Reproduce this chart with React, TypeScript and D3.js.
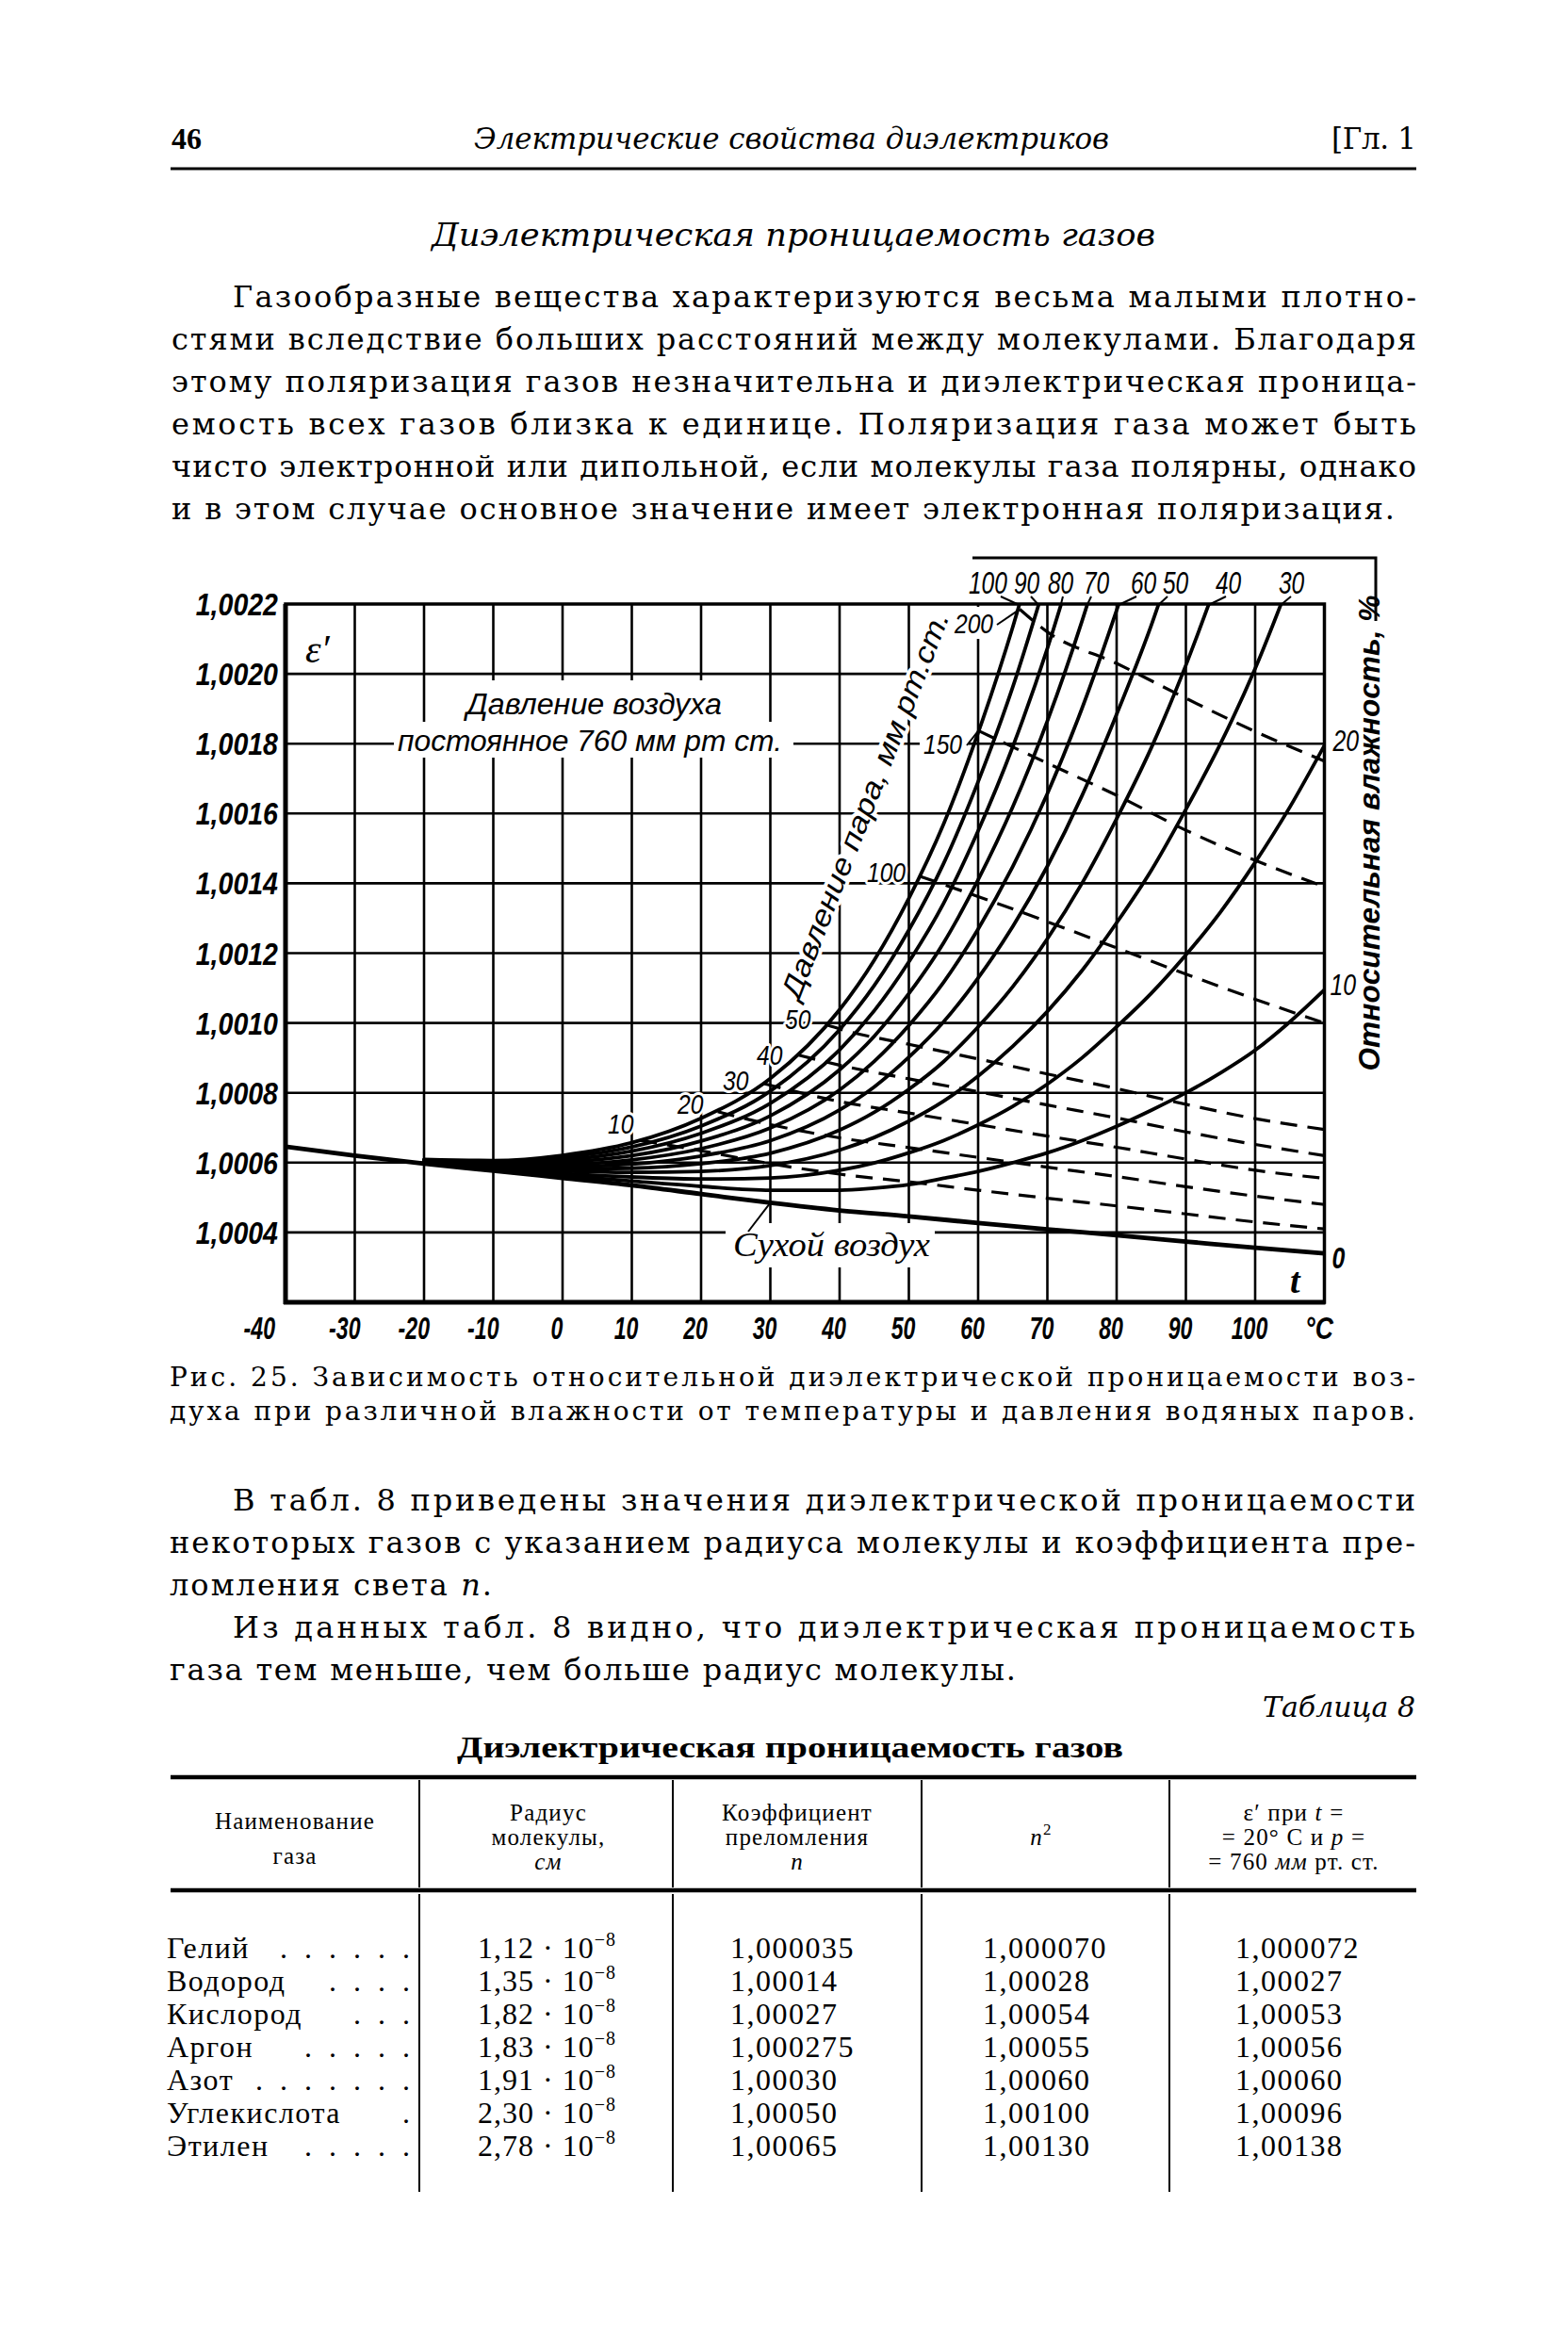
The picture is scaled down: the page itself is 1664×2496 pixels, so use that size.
import React from "react";
import * as d3 from "d3";

const SERIF = "'Liberation Serif','Times New Roman','DejaVu Serif',serif";
const BODY = "'DejaVu Serif','Liberation Serif',serif";
const SANS = "'Liberation Sans','Arial','DejaVu Sans',sans-serif";

// ---------------- page text ----------------
const PAGE_NO = "46";
const RUNNING_TITLE = "Электрические свойства диэлектриков";
const CHAPTER = "[Гл. 1";
const SECTION_TITLE = "Диэлектрическая проницаемость газов";
const PARA1 = [
  "Газообразные вещества характеризуются весьма малыми плотно-",
  "стями вследствие больших расстояний между молекулами. Благодаря",
  "этому поляризация газов незначительна и диэлектрическая проница-",
  "емость всех газов близка к единице. Поляризация газа может быть",
  "чисто электронной или дипольной, если молекулы газа полярны, однако",
  "и в этом случае основное значение имеет электронная поляризация.",
];
const CAPTION = [
  "Рис. 25. Зависимость относительной диэлектрической проницаемости воз-",
  "духа при различной влажности от температуры и давления водяных паров.",
];
const PARA2 = [
  "В табл. 8 приведены значения диэлектрической проницаемости",
  "некоторых газов с указанием радиуса молекулы и коэффициента пре-",
  "ломления света n.",
  "Из данных табл. 8 видно, что диэлектрическая проницаемость",
  "газа тем меньше, чем больше радиус молекулы.",
];

// ---------------- table ----------------
const TABLE_LABEL = "Таблица 8";
const TABLE_TITLE = "Диэлектрическая проницаемость газов";
const GAS_NAMES = ["Гелий", "Водород", "Кислород", "Аргон", "Азот", "Углекислота", "Этилен"];
const GAS_DOTS = [6, 4, 3, 5, 7, 1, 5];
const GAS_RADIUS = ["1,12", "1,35", "1,82", "1,83", "1,91", "2,30", "2,78"];
const GAS_N = ["1,000035", "1,00014", "1,00027", "1,000275", "1,00030", "1,00050", "1,00065"];
const GAS_N2 = ["1,000070", "1,00028", "1,00054", "1,00055", "1,00060", "1,00100", "1,00130"];
const GAS_EPS = ["1,000072", "1,00027", "1,00053", "1,00056", "1,00060", "1,00096", "1,00138"];

// ---------------- chart data (ε′ − 1, millionths) ----------------
const X_TICKS = [-40, -30, -20, -10, 0, 10, 20, 30, 40, 50, 60, 70, 80, 90, 100];
const X_TICK_LABELS = ["-40", "-30", "-20", "-10", "0", "10", "20", "30", "40", "50", "60", "70", "80", "90", "100"];
const X_GRID = [-30, -20, -10, 0, 10, 20, 30, 40, 50, 60, 70, 80, 90, 100];
const Y_TICKS = [400, 600, 800, 1000, 1200, 1400, 1600, 1800, 2000, 2200];
const Y_TICK_LABELS = ["1,0004", "1,0006", "1,0008", "1,0010", "1,0012", "1,0014", "1,0016", "1,0018", "1,0020", "1,0022"];
const Y_GRID = [400, 600, 800, 1000, 1200, 1400, 1600, 1800, 2000];

const T_HUMID = [-20, -10, 0, 10, 20, 30, 40, 45, 50, 55, 60, 65, 70, 75, 80, 85, 90, 95, 100, 105, 110];
const RH_100 = [609, 606, 621, 657, 727, 841, 1038, 1180, 1357, 1569, 1831, 2134, 2489];
const RH_90 = [608, 603, 615, 645, 705, 805, 981, 1107, 1266, 1456, 1691, 1962, 2281];
const RH_80 = [607, 600, 608, 633, 684, 770, 923, 1035, 1175, 1342, 1550, 1791, 2073, 2401];
const RH_70 = [605, 597, 602, 620, 662, 734, 866, 962, 1084, 1229, 1410, 1619, 1865, 2151, 2480];
const RH_60 = [604, 594, 595, 608, 640, 699, 808, 890, 993, 1116, 1269, 1448, 1657, 1901, 2182, 2490];
const RH_50 = [603, 592, 589, 596, 619, 663, 751, 817, 902, 1003, 1129, 1276, 1449, 1651, 1884, 2139, 2438];
const RH_40 = [602, 589, 582, 584, 597, 627, 693, 744, 810, 889, 989, 1104, 1241, 1400, 1585, 1788, 2025, 2292];
const RH_30 = [601, 586, 576, 572, 575, 592, 636, 672, 719, 776, 848, 933, 1033, 1150, 1287, 1437, 1612, 1800, 2015, 2265];
const RH_20 = [599, 583, 569, 559, 553, 556, 578, 599, 628, 663, 708, 761, 825, 900, 989, 1085, 1195, 1318, 1460, 1618, 1795];
const RH_10 = [598, 580, 563, 547, 532, 521, 521, 527, 537, 555, 575, 600, 628, 663, 704, 750, 800, 857, 922, 1003, 1095];
const RH_TOP_LABELS = ["100", "90", "80", "70", "60", "50", "40", "30"];

const DRY_T = [-40, -30, -20, -10, 0, 10, 20, 30, 40, 50, 60, 70, 80, 90, 100, 110];
const DRY = [646, 620, 597, 577, 556, 535, 510, 485, 463, 446, 427, 409, 392, 374, 356, 340];

// constant vapour pressure (dashed), mm Hg
const P10_T = [11.2, 20, 30, 40, 50, 60, 70, 80, 90, 100, 110];
const P10 = [664, 634, 597, 567, 545, 521, 498, 476, 453, 430, 410];
const P20_T = [22.4, 30, 40, 50, 60, 70, 80, 90, 100, 110];
const P20 = [746, 709, 671, 643, 615, 587, 560, 531, 504, 480];
const P30_T = [29.1, 40, 50, 60, 70, 80, 90, 100, 110];
const P30 = [826, 775, 742, 709, 676, 644, 610, 578, 555];
const P40_T = [34.1, 40, 50, 60, 70, 80, 90, 100, 110];
const P40 = [908, 879, 840, 803, 765, 728, 688, 652, 620];
const P50_T = [38.1, 40, 50, 60, 70, 80, 90, 100, 110];
const P50 = [995, 983, 939, 897, 854, 812, 767, 726, 695];
const P100_T = [51.6, 60, 70, 80, 90, 100, 110];
const P100 = [1420, 1362, 1290, 1215, 1140, 1068, 1000];
const P150_T = [60.05, 70, 80, 90, 100, 110];
const P150 = [1837, 1744, 1652, 1552, 1466, 1390];
const P200_T = [66, 70, 80, 90, 100, 110];
const P200 = [2185, 2120, 2030, 1930, 1835, 1750];
const P_LABELS = ["10", "20", "30", "40", "50", "100", "150", "200"];

const RH_SERIES = [RH_100, RH_90, RH_80, RH_70, RH_60, RH_50, RH_40, RH_30, RH_20, RH_10];
const P_SERIES: [number[], number[]][] = [
  [P10_T, P10], [P20_T, P20], [P30_T, P30], [P40_T, P40],
  [P50_T, P50], [P100_T, P100], [P150_T, P150], [P200_T, P200],
];

const zip = (ts: number[], vs: number[]) => vs.map((v, i) => [ts[i], v] as [number, number]);

function topCross(vs: number[]) {
  for (let i = 1; i < vs.length; i++) {
    if (vs[i] >= 2200) {
      const f = (2200 - vs[i - 1]) / (vs[i] - vs[i - 1]);
      return T_HUMID[i - 1] + f * (T_HUMID[i] - T_HUMID[i - 1]);
    }
  }
  return 110;
}

function CText(props: any) {
  const { x, y, sx = 0.7, anchor = "middle", children, ...rest } = props;
  return (
    <text transform={`translate(${x},${y}) scale(${sx},1)`} textAnchor={anchor} {...rest}>
      {children}
    </text>
  );
}

function Line(props: any) {
  const { x0, x1, y, size, children, family = BODY, italic = false, weight = "normal" } = props;
  return (
    <text
      x={x0}
      y={y}
      fontSize={size}
      fontFamily={family}
      fontStyle={italic ? "italic" : "normal"}
      fontWeight={weight}
      textLength={x1 - x0}
      lengthAdjust="spacing"
    >
      {children}
    </text>
  );
}

export default function App() {
  const x = d3.scaleLinear().domain([-40, 110]).range([303, 1405.5]);
  const y = d3.scaleLinear().domain([200, 2200]).range([1382, 641]);
  const lineGen = d3
    .line<[number, number]>()
    .x((d) => x(d[0]))
    .y((d) => y(d[1]))
    .curve(d3.curveMonotoneX);

  const plotL = x(-40), plotR = x(110), plotT = y(2200), plotB = y(200);

  // layout positions
  const P1_Y = [326, 371, 416, 461, 506, 551];
  const P1_X0 = [247, 182, 182, 182, 182, 182];
  const P1_X1 = [1503, 1503, 1503, 1503, 1503, 1480];
  const CAP_Y = [1471, 1507];
  const P2_Y = [1603, 1648, 1693, 1738, 1783];
  const P2_X0 = [247, 180, 180, 247, 180];
  const P2_X1 = [1502, 1502, 522, 1502, 1078];

  const TOP_LABEL_X = [1028, 1076, 1112, 1150, 1200, 1234, 1290, 1357];
  const TOP_LEADER_X = [1062, 1094, 1128, 1158, 1206, 1239, 1301, 1370];
  const P_LABEL_POS = [
    [645, 1203], [719, 1182], [767, 1157], [803, 1130],
    [833, 1092], [920, 936], [980, 800], [1013, 672],
  ];

  const HALO = { stroke: "#fff", strokeWidth: 6, strokeLinejoin: "round" as const, paintOrder: "stroke", fill: "#000" };

  const xLabelPos = (t: number) => (t === -40 ? 292 : t < 0 ? x(t) + 6 : x(t) - 6);
  const xLabelAnchor = (t: number) => (t < 0 ? "end" : "middle");

  return (
    <svg
      width={1664}
      height={2496}
      viewBox="0 0 1664 2496"
      style={{ position: "absolute", left: 0, top: 0, background: "#fff" }}
    >
      <rect x={0} y={0} width={1664} height={2496} fill="#fff" />

      {/* running head */}
      <text x={182} y={158} fontFamily={SERIF} fontWeight="bold" fontSize={32}>{PAGE_NO}</text>
      <text x={503} y={158} fontFamily={BODY} fontStyle="italic" fontSize={31} textLength={674} lengthAdjust="spacingAndGlyphs">
        {RUNNING_TITLE}
      </text>
      <text x={1413} y={158} fontFamily={BODY} fontSize={31} textLength={90} lengthAdjust="spacing">{CHAPTER}</text>
      <line x1={181} x2={1503} y1={179} y2={179} stroke="#000" strokeWidth={3} />

      {/* section title */}
      <text x={458} y={261} fontFamily={BODY} fontStyle="italic" fontSize={34} textLength={768} lengthAdjust="spacingAndGlyphs">
        {SECTION_TITLE}
      </text>

      {PARA1.map((s, i) => (
        <Line key={i} x0={P1_X0[i]} x1={P1_X1[i]} y={P1_Y[i]} size={32}>{s}</Line>
      ))}

      {/* ---------------- chart ---------------- */}
      <defs>
        <clipPath id="plotClip">
          <rect x={plotL} y={plotT} width={plotR - plotL} height={plotB - plotT} />
        </clipPath>
      </defs>

      <g stroke="#000" strokeWidth={2.6}>
        {X_GRID.map((t) => (
          <line key={t} x1={x(t)} x2={x(t)} y1={plotT} y2={plotB} />
        ))}
        {Y_GRID.map((v) => (
          <line key={v} x1={plotL} x2={plotR} y1={y(v)} y2={y(v)} />
        ))}
      </g>

      {/* interruptions of the grid behind labels */}
      <rect x={488} y={722} width={284} height={46} fill="#fff" />
      <rect x={418} y={766} width={424} height={38} fill="#fff" />
      <rect x={770} y={1298} width={222} height={47} fill="#fff" />
      <rect x={1008} y={644} width={52} height={34} fill="#fff" />
      <rect x={976} y={777} width={52} height={27} fill="#fff" />

      <text
        transform="translate(928,858) rotate(-68.6)"
        textAnchor="middle"
        fontFamily={SANS}
        fontStyle="italic"
        fontSize={31}
        textLength={438}
        lengthAdjust="spacingAndGlyphs"
        {...HALO}
        strokeWidth={8}
      >
        Давление пара, мм рт.ст.
      </text>

      <rect x={plotL} y={plotT} width={plotR - plotL} height={plotB - plotT} fill="none" stroke="#000" strokeWidth={3.5} />
      <line x1={plotL} x2={plotL} y1={plotT} y2={plotB + 2} stroke="#000" strokeWidth={5} />
      <line x1={plotL - 2} x2={plotR + 1} y1={plotB} y2={plotB} stroke="#000" strokeWidth={5} />

      <g clipPath="url(#plotClip)" fill="none" stroke="#000" strokeLinecap="round">
        {RH_SERIES.map((vs, i) => (
          <path key={i} d={lineGen(zip(T_HUMID, vs)) || ""} strokeWidth={3.8} />
        ))}
        <path d={lineGen(zip(DRY_T, DRY)) || ""} strokeWidth={4.8} />
        {P_SERIES.map(([ts, vs], i) => (
          <path key={"p" + i} d={lineGen(zip(ts, vs)) || ""} strokeWidth={3.2} strokeDasharray="18 11" strokeLinecap="butt" />
        ))}
      </g>

      <g stroke="#000" strokeWidth={2}>
        {RH_TOP_LABELS.map((lab, i) => (
          <line key={lab} x1={TOP_LEADER_X[i]} y1={633} x2={x(topCross(RH_SERIES[i]))} y2={plotT + 1} />
        ))}
        <line x1={1058} y1={663} x2={x(P200_T[0])} y2={y(P200[0])} />
        <line x1={1026} y1={791} x2={x(P150_T[0])} y2={y(P150[0])} />
        <line x1={794} y1={1307} x2={x(DRY_T[7])} y2={y(DRY[7])} />
        <path d={`M1032,592 H1460 V659`} fill="none" strokeWidth={3} />
      </g>

      {/* labels inside the plot */}
      <text x={495} y={758} fontFamily={SANS} fontStyle="italic" fontSize={31} textLength={271} lengthAdjust="spacingAndGlyphs">
        Давление воздуха
      </text>
      <text x={422} y={797} fontFamily={SANS} fontStyle="italic" fontSize={31} textLength={408} lengthAdjust="spacingAndGlyphs">
        постоянное 760 мм рт  ст.
      </text>
      <text x={778} y={1333} fontFamily={SERIF} fontStyle="italic" fontSize={36} textLength={209} lengthAdjust="spacingAndGlyphs">
        Сухой воздух
      </text>
      {P_LABELS.map((lab, i) => (
        <CText key={lab} x={P_LABEL_POS[i][0]} y={P_LABEL_POS[i][1]} sx={0.82} anchor="start" fontFamily={SANS} fontStyle="italic" fontSize={30} {...HALO}>
          {lab}
        </CText>
      ))}
      <text x={324} y={703} fontFamily={SERIF} fontStyle="italic" fontSize={42} {...HALO}>
        ε′
      </text>
      <text x={1369} y={1372} fontFamily={SERIF} fontStyle="italic" fontWeight="bold" fontSize={38} {...HALO}>
        t
      </text>

      {RH_TOP_LABELS.map((lab, i) => (
        <CText key={lab} x={TOP_LABEL_X[i]} y={630} sx={0.72} anchor="start" fontFamily={SANS} fontStyle="italic" fontSize={34}>
          {lab}
        </CText>
      ))}

      <CText x={plotR + 9} y={y(RH_20[RH_20.length - 1]) + 6} sx={0.8} anchor="start" fontFamily={SANS} fontStyle="italic" fontSize={31}>20</CText>
      <CText x={plotR + 6} y={y(RH_10[RH_10.length - 1]) + 6} sx={0.8} anchor="start" fontFamily={SANS} fontStyle="italic" fontSize={31}>10</CText>
      <CText x={plotR + 8} y={y(DRY[DRY.length - 1]) + 16} sx={0.8} anchor="start" fontFamily={SANS} fontStyle="italic" fontWeight="bold" fontSize={31}>0</CText>
      <text
        transform="translate(1464,884) rotate(-90)"
        textAnchor="middle"
        fontFamily={SANS}
        fontStyle="italic"
        fontWeight="bold"
        fontSize={32}
        textLength={505}
        lengthAdjust="spacingAndGlyphs"
      >
        Относительная  влажность, %
      </text>

      {Y_TICKS.map((v, i) => (
        <CText key={v} x={295} y={y(v) + 12} sx={0.84} anchor="end" fontFamily={SANS} fontStyle="italic" fontWeight="bold" fontSize={34}>
          {Y_TICK_LABELS[i]}
        </CText>
      ))}
      {X_TICKS.map((t, i) => (
        <CText key={t} x={xLabelPos(t)} y={1421} sx={0.68} anchor={xLabelAnchor(t)} fontFamily={SANS} fontStyle="italic" fontWeight="bold" fontSize={34}>
          {X_TICK_LABELS[i]}
        </CText>
      ))}
      <CText x={1400} y={1421} sx={0.78} anchor="middle" fontFamily={SANS} fontStyle="italic" fontWeight="bold" fontSize={34}>°C</CText>

      {CAPTION.map((s, i) => (
        <Line key={i} x0={180} x1={1502} y={CAP_Y[i]} size={28}>{s}</Line>
      ))}

      {PARA2.map((s, i) => {
        if (s.endsWith(" n.")) {
          return (
            <Line key={i} x0={P2_X0[i]} x1={P2_X1[i]} y={P2_Y[i]} size={32}>
              {s.slice(0, -2)}
              <tspan fontStyle="italic">n</tspan>.
            </Line>
          );
        }
        return (
          <Line key={i} x0={P2_X0[i]} x1={P2_X1[i]} y={P2_Y[i]} size={32}>{s}</Line>
        );
      })}

      <text x={1502} y={1822} textAnchor="end" fontFamily={BODY} fontStyle="italic" fontSize={30}>{TABLE_LABEL}</text>

      <text x={485} y={1865} fontFamily={SERIF} fontWeight="bold" fontSize={32} textLength={707} lengthAdjust="spacingAndGlyphs">
        {TABLE_TITLE}
      </text>
      <line x1={181} x2={1503} y1={1886} y2={1886} stroke="#000" strokeWidth={4.5} />
      <line x1={181} x2={1503} y1={2006} y2={2006} stroke="#000" strokeWidth={4.5} />
      <g stroke="#000" strokeWidth={2}>
        {[445, 714, 978, 1241].map((cx) => (
          <g key={cx}>
            <line x1={cx} x2={cx} y1={1889} y2={2003} />
            <line x1={cx} x2={cx} y1={2010} y2={2326} />
          </g>
        ))}
      </g>
      <g fontFamily={SERIF} fontSize={25} textAnchor="middle" letterSpacing={1.2}>
        <text x={313} y={1941}>Наименование</text>
        <text x={313} y={1978}>газа</text>
        <text x={582} y={1932}>Радиус</text>
        <text x={582} y={1958}>молекулы,</text>
        <text x={582} y={1984} fontStyle="italic">см</text>
        <text x={846} y={1932}>Коэффициент</text>
        <text x={846} y={1958}>преломления</text>
        <text x={846} y={1984} fontStyle="italic">n</text>
        <text x={1105} y={1958}>
          <tspan fontStyle="italic">n</tspan>
          <tspan dy={-11} fontSize={17}>2</tspan>
        </text>
        <text x={1373} y={1932}>
          ε′ при <tspan fontStyle="italic">t</tspan> =
        </text>
        <text x={1373} y={1958}>
          = 20° С и <tspan fontStyle="italic">p</tspan> =
        </text>
        <text x={1373} y={1984}>
          = 760 <tspan fontStyle="italic">мм</tspan> рт. ст.
        </text>
      </g>
      <g fontFamily={SERIF} fontSize={32}>
        {GAS_NAMES.map((name, i) => {
          const yy = 2078 + 35 * i;
          return (
            <g key={name}>
              <text x={177} y={yy} letterSpacing={1.5}>{name}</text>
              <text x={440} y={yy} textAnchor="end" letterSpacing={5}>
                {Array(GAS_DOTS[i]).fill(".").join(" ")}
              </text>
              <text x={507} y={yy} letterSpacing={1}>
                {GAS_RADIUS[i]} · 10<tspan dy={-13} fontSize={20}>−8</tspan>
              </text>
              <text x={775} y={yy} letterSpacing={1.5}>{GAS_N[i]}</text>
              <text x={1043} y={yy} letterSpacing={1.5}>{GAS_N2[i]}</text>
              <text x={1311} y={yy} letterSpacing={1.5}>{GAS_EPS[i]}</text>
            </g>
          );
        })}
      </g>
    </svg>
  );
}
